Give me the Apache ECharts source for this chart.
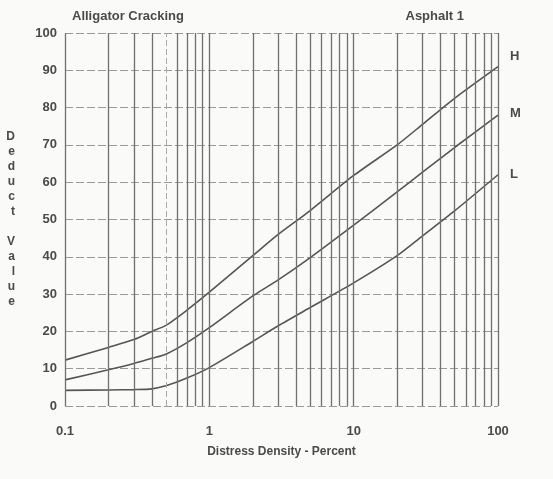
<!DOCTYPE html>
<html>
<head>
<meta charset="utf-8">
<script src="https://cdn.jsdelivr.net/npm/echarts@6/dist/echarts.min.js"></script>
<style>
  html, body { margin: 0; padding: 0; background: #fafaf8; }
  #main { width: 553px; height: 479px; }
</style>
</head>
<body>
<div id="main"></div>
<script>
// distress density (percent) where the curves were read
var density = [0.1, 0.2, 0.3, 0.4, 0.5, 0.7, 1, 2, 3, 5, 10, 20, 30, 50, 100];
// deduct values per severity level
var highSev = [12.3, 15.7, 17.8, 20, 21.6, 25.7, 30.5, 40.3, 46, 52.4, 61.8, 70, 75.5, 82.5, 91];
var medSev = [7, 9.7, 11.4, 12.8, 13.9, 17, 21, 29.5, 33.8, 39.8, 48.5, 57.4, 62.7, 69.3, 78];
var lowSev = [4.2, 4.3, 4.4, 4.6, 5.4, 7.5, 10.3, 17.3, 21.5, 26.4, 33, 40.3, 45.6, 52.3, 62];
// vertical rulings of the log paper
var logRulings = [0.1, 0.2, 0.3, 0.4, 0.6, 0.7, 0.8, 0.9, 1, 2, 3, 4, 5, 6, 7, 8, 9, 10,
  20, 30, 40, 50, 60, 70, 80, 90, 100];
var dashedRulings = [0.5];

var textCol = '#4a4a4a';
var font = 'Liberation Sans';

function pairs(ys) {
  return density.map(function (x, i) { return [x, ys[i]]; });
}

function curve(name, ys, offset) {
  return {
    name: name,
    type: 'line',
    data: pairs(ys),
    smooth: 0.25,
    showSymbol: false,
    silent: true,
    lineStyle: { color: '#555', width: 1.6 },
    endLabel: {
      show: true,
      formatter: name,
      offset: offset,
      distance: 12,
      color: textCol,
      fontFamily: font,
      fontWeight: 'bold',
      fontSize: 13
    }
  };
}

var myChart = echarts.init(document.getElementById('main'));

var series = [
  curve('H', highSev, [0, -10]),
  curve('M', medSev, [0, -2]),
  curve('L', lowSev, [0, 0])
];
// rulings drawn as mark lines at the x values above
series[0].markLine = {
  silent: true,
  symbol: 'none',
  label: { show: false },
  animation: false,
  data: logRulings.map(function (v) {
    return { xAxis: v, lineStyle: { color: '#707070', width: 1.3, type: 'solid' } };
  }).concat(dashedRulings.map(function (v) {
    return { xAxis: v, lineStyle: { color: '#aaa', width: 1, type: [6, 3] } };
  }))
};

var option = {
  backgroundColor: '#fafaf8',
  animation: false,
  title: [
    {
      text: 'Alligator Cracking',
      left: 67, top: 5,
      textStyle: { color: textCol, fontFamily: font, fontWeight: 'bold', fontSize: 13 }
    },
    {
      text: 'Asphalt 1',
      right: 84, top: 5,
      textStyle: { color: textCol, fontFamily: font, fontWeight: 'bold', fontSize: 13 }
    }
  ],
  grid: { left: 65, right: 55, top: 33, bottom: 73 },
  xAxis: {
    type: 'log',
    logBase: 10,
    min: 0.1,
    max: 100,
    name: 'Distress Density - Percent',
    nameLocation: 'middle',
    nameGap: 40,
    nameTextStyle: { color: textCol, fontFamily: font, fontWeight: 'bold', fontSize: 12 },
    axisLine: { show: false },
    axisTick: { show: false },
    splitLine: { show: false },
    axisLabel: {
      color: textCol, fontFamily: font, fontWeight: 'bold', fontSize: 13, margin: 19,
      formatter: function (v) { return String(v); }
    }
  },
  yAxis: {
    type: 'value',
    min: 0,
    max: 100,
    interval: 10,
    name: 'D\ne\nd\nu\nc\nt\n\nV\na\nl\nu\ne',
    nameLocation: 'middle',
    nameRotate: 0,
    nameGap: 50,
    nameTextStyle: { color: textCol, fontFamily: font, fontWeight: 'bold', fontSize: 12, lineHeight: 15 },
    axisLine: { show: false },
    axisTick: { show: false },
    axisLabel: { color: textCol, fontFamily: font, fontWeight: 'bold', fontSize: 13, margin: 8 },
    splitLine: { show: true, lineStyle: { color: '#9a9a9a', width: 1.2, type: [8, 3] } }
  },
  series: series
};

myChart.setOption(option);
</script>
</body>
</html>
